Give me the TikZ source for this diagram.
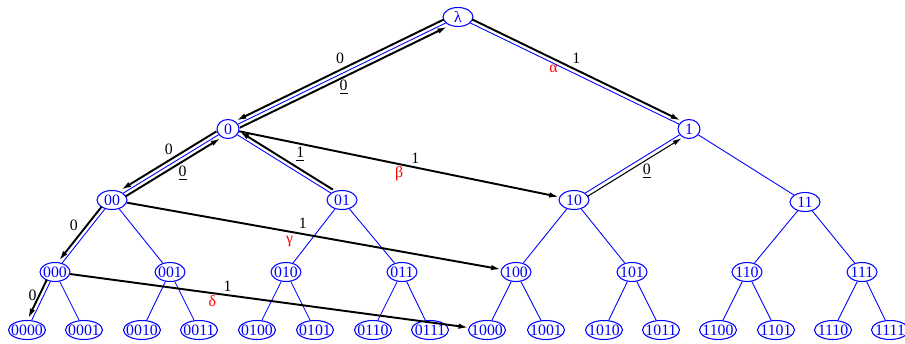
\documentclass[tikz,border=0pt]{standalone}
\usepackage{fontspec}
\setmainfont{Liberation Serif}
\usetikzlibrary{positioning, arrows.meta, shapes.geometric}

\tikzset{
  vx/.style={draw=blue, text=blue, ellipse, line width=0.6pt, inner xsep=-3pt, inner ysep=0pt,
    minimum width=0.44cm, minimum height=0.38cm, font=\fontsize{9}{10}\selectfont},
  vxwide/.style={vx, minimum width=0.6cm},
  vxleaf/.style={vx, minimum width=0.74cm},
  tree/.style={blue, line width=0.5pt},
  walk/.style={line width=1.1pt, -{Latex[length=2mm,width=1.1mm]}},
  thinwalk/.style={line width=0.6pt, -{Latex[length=1.8mm,width=1mm]}},
  lbl/.style={inner sep=1pt, font=\fontsize{9}{10}\selectfont},
  greek/.style={lbl, text=red},
}

\begin{document}
\begin{tikzpicture}[x=0.02cm, y=-0.02cm]
    \useasboundingbox (0,0) rectangle (905,344);
    % Binary tree of words
    \node (root) [vxwide] at (458,17) {λ};
    \node (n0) [vx] at (228,129) {0};
    \node (n1) [vx] at (689,129) {1};
    \node (n00) [vxwide] at (112,200) {00};
    \node (n01) [vxwide] at (342,200) {01};
    \node (n10) [vxwide] at (574,200) {10};
    \node (n11) [vxwide] at (805,202) {11};
    \node (n000) [vxwide] at (55,272) {000};
    \node (n001) [vxwide] at (170,272) {001};
    \node (n010) [vxwide] at (286,272) {010};
    \node (n011) [vxwide] at (402,272) {011};
    \node (n100) [vxwide] at (516,272) {100};
    \node (n101) [vxwide] at (632,272) {101};
    \node (n110) [vxwide] at (747,272) {110};
    \node (n111) [vxwide] at (862,272) {111};
    \node (n0000) [vxleaf] at (27,330) {0000};
    \node (n0001) [vxleaf] at (84,330) {0001};
    \node (n0010) [vxleaf] at (142,330) {0010};
    \node (n0011) [vxleaf] at (199,330) {0011};
    \node (n0100) [vxleaf] at (257,330) {0100};
    \node (n0101) [vxleaf] at (315,330) {0101};
    \node (n0110) [vxleaf] at (373,330) {0110};
    \node (n0111) [vxleaf] at (430,330) {0111};
    \node (n1000) [vxleaf] at (487,330) {1000};
    \node (n1001) [vxleaf] at (546,330) {1001};
    \node (n1010) [vxleaf] at (604,330) {1010};
    \node (n1011) [vxleaf] at (661,330) {1011};
    \node (n1100) [vxleaf] at (718,330) {1100};
    \node (n1101) [vxleaf] at (776,330) {1101};
    \node (n1110) [vxleaf] at (833,330) {1110};
    \node (n1111) [vxleaf] at (890,330) {1111};
    % Tree edges
    \draw [tree] (root) -- (n0);
    \draw [tree] (root) -- (n1);
    \draw [tree] (n0) -- (n00);
    \draw [tree] (n0) -- (n01);
    \draw [tree] (n1) -- (n10);
    \draw [tree] (n1) -- (n11);
    \draw [tree] (n00) -- (n000);
    \draw [tree] (n00) -- (n001);
    \draw [tree] (n01) -- (n010);
    \draw [tree] (n01) -- (n011);
    \draw [tree] (n10) -- (n100);
    \draw [tree] (n10) -- (n101);
    \draw [tree] (n11) -- (n110);
    \draw [tree] (n11) -- (n111);
    \draw [tree] (n000) -- (n0000);
    \draw [tree] (n000) -- (n0001);
    \draw [tree] (n001) -- (n0010);
    \draw [tree] (n001) -- (n0011);
    \draw [tree] (n010) -- (n0100);
    \draw [tree] (n010) -- (n0101);
    \draw [tree] (n011) -- (n0110);
    \draw [tree] (n011) -- (n0111);
    \draw [tree] (n100) -- (n1000);
    \draw [tree] (n100) -- (n1001);
    \draw [tree] (n101) -- (n1010);
    \draw [tree] (n101) -- (n1011);
    \draw [tree] (n110) -- (n1100);
    \draw [tree] (n110) -- (n1101);
    \draw [tree] (n111) -- (n1110);
    \draw [tree] (n111) -- (n1111);
    % Walk down the 0 branch and back up
    \draw [walk, transform canvas={shift={(-1.75,-3.6)}}] (root) -- (n0) node [lbl, midway, above=2pt] {0};
    \draw [walk, transform canvas={shift={(1.75,3.6)}}] (n0) -- (root) node [lbl, midway, below=0pt] {\underline{0}};
    \draw [walk, transform canvas={shift={(-2.1,-3.4)}}] (n0) -- (n00) node [lbl, midway, above=2pt] {0};
    \draw [walk, transform canvas={shift={(2.1,3.4)}}] (n00) -- (n0) node [lbl, pos=0.6, below=1pt] {\underline{0}};
    \draw [walk, transform canvas={shift={(-3.1,-2.5)}}] (n00) -- (n000) node [lbl, midway, above left=0pt] {0};
    \draw [walk, transform canvas={shift={(-3.6,-1.8)}}] (n000) -- (n0000) node [lbl, pos=0.4, left=0pt] {0};
    \draw [walk, transform canvas={shift={(2.1,-3.4)}}] (n01) -- (n0) node [lbl, pos=0.35, above=3pt] {\underline{1}};
    \draw [thinwalk, transform canvas={shift={(2.1,3.4)}}] (n10) -- (n1) node [lbl, pos=0.63, below=1pt] {\underline{0}};
    % Jumps along the 1 links
    \draw [walk, transform canvas={shift={(1.75,-3.6)}}] (root) -- (n1)
        node [lbl, midway, above=2pt] {1} node [greek, pos=0.39, below=2pt] {α};
    \draw [walk] (n0) -- (n10) node [lbl, pos=0.55, above=0.5pt] {1} node [greek, pos=0.5, below=0pt] {β};
    \draw [walk] (n00) -- (n100) node [lbl, pos=0.47, above=1.5pt] {1} node [greek, pos=0.435, below=1pt] {γ};
    \draw [walk] (n000) -- (n1000) node [lbl, pos=0.395, above=0.5pt] {1} node [greek, pos=0.357, below=0pt] {δ};
\end{tikzpicture}
\end{document}
